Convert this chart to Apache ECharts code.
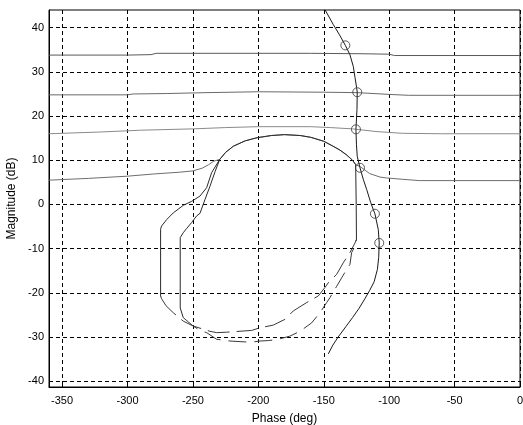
<!DOCTYPE html>
<html>
<head>
<meta charset="utf-8">
<script src="https://cdn.jsdelivr.net/npm/echarts@6/dist/echarts.min.js"></script>
<style>
  html, body { margin: 0; padding: 0; background: #ffffff; }
  #chart { width: 523px; height: 425px; }
</style>
</head>
<body>
<div id="chart"></div>
<script>
// Axis ticks
const phaseTicks = [-350, -300, -250, -200, -150, -100, -50, 0];
const magTicks = [-40, -30, -20, -10, 0, 10, 20, 30, 40];

// Bounds: [phase (deg), magnitude (dB)]
const bound34 = [[-360, 33.8], [-300, 33.8], [-282, 33.9], [-278, 34.2], [-160, 34.2], [-120, 34.1], [-100, 34.0], [-96, 33.7], [0, 33.7]];
const bound25 = [[-360, 24.8], [-300, 24.8], [-296, 25.0], [-270, 25.1], [-240, 25.3], [-200, 25.5], [-150, 25.4], [-124, 25.3], [-100, 24.9], [-85, 24.7], [0, 24.7]];
const bound16 = [[-360, 16.0], [-320, 16.4], [-290, 16.8], [-250, 17.1], [-225, 17.4], [-200, 17.6], [-160, 17.6], [-145, 17.4], [-128, 17.1], [-110, 16.5], [-90, 16.1], [-60, 16.0], [0, 16.0]];
const bound5 = [[-360, 5.5], [-330, 5.9], [-300, 6.4], [-280, 6.9], [-260, 7.3], [-250, 7.6], [-243, 8.2], [-238, 9.0], [-234, 9.8], [-229.5, 10.2],
  [-225, 11.8], [-219, 13.2], [-210, 14.4], [-201, 15.1], [-190, 15.6], [-180, 15.8], [-168, 15.6], [-160, 15.2], [-150, 14.3], [-143, 13.2], [-137.6, 12.3], [-132.5, 11.2], [-128, 10.0], [-125.6, 9.0],
  [-122.3, 8.6], [-115, 7.0], [-107, 6.2], [-102, 6.0], [-90, 5.7], [-77, 5.4], [0, 5.4]];

// Outer contour: arch, left flank and the vertical edge at -125 deg
const outerUpper = [[-125.0, -7.9], [-125.2, 0], [-125.6, 9.0], [-128, 10.0], [-132.5, 11.2], [-137.6, 12.3], [-143, 13.2], [-150, 14.3], [-160, 15.2], [-168, 15.6], [-180, 15.8], [-190, 15.6], [-201, 15.1], [-210, 14.4], [-219, 13.2], [-225, 11.8], [-229.5, 10.2],
  [-235.7, 7.2], [-239.5, 3.8], [-244.6, 1.9], [-251, 0.7], [-257.4, -0.2], [-265, -1.9], [-270, -3.4], [-274, -4.9], [-274.7, -5.6], [-274.7, -20.7], [-274, -21.3]];
const outerLower = [[-274, -21.3], [-270.6, -22.9], [-265, -24.5], [-257.4, -26.4], [-249.8, -27.5], [-237, -28.7], [-231.9, -29.0], [-224.2, -28.9], [-205.1, -28.5], [-198.8, -27.9], [-188.6, -27.3], [-179.7, -26.0], [-173.3, -24.1], [-163.1, -22.2], [-154.2, -20.7], [-149.1, -18.8], [-146.5, -17.7], [-140.1, -15.8], [-135.1, -13.2], [-130, -10.9], [-126.1, -8.7], [-125.0, -7.9]];

// Inner contour
const innerUpper = [[-229.5, 10.2], [-233, 7.5], [-237, 4.1], [-240.8, 1.1], [-244.6, -2.0], [-247.2, -2.6], [-251, -4.1], [-255, -5.5], [-257.4, -6.4], [-259.7, -7.5], [-259.7, -23.4], [-257.4, -25.6]];
const innerLower = [[-257.4, -25.6], [-249.8, -27.5], [-244.6, -28.5], [-239.5, -29.0], [-231.9, -30.5], [-221.7, -30.9], [-210, -31.1], [-203.9, -31.1], [-198.8, -30.9], [-192.4, -30.8], [-184.8, -30.5], [-176, -29.8], [-168.2, -28.7], [-159.3, -26.8], [-152.9, -24.5], [-147.8, -22.2], [-145.3, -21.1], [-140.1, -18.5], [-136.3, -16.6], [-132.5, -14.7], [-130, -13.6], [-128.7, -10.9], [-126.1, -9.4], [-125.0, -7.9]];

// Nominal open loop and its frequency markers
const loopPhase = [-149.1, -142.7, -138, -133.5, -130, -127.4, -126.1, -124.9, -124.4, -124.6, -125.4, -125.0, -124.4, -122.3, -119.8, -117.2, -114.1, -110.9, -108.3, -107.6, -108, -109, -111.5, -115, -118.5, -123, -128, -133, -139, -143, -146.5];
const loopMag = [44.1, 40.7, 38.4, 36.0, 33.9, 31.2, 28.7, 26.5, 25.4, 21.5, 17.0, 13.5, 10.9, 8.3, 5.7, 3.4, 0.4, -2.1, -5.7, -8.7, -12, -14.7, -17.5, -19.5, -21.3, -23.5, -25.6, -27.6, -30, -31.8, -33.8];
const markerPhase = [-133.5, -124.4, -125.4, -122.3, -110.9, -107.6];
const markerMag = [36.0, 25.4, 17.0, 8.3, -2.1, -8.7];

const pairs = (xs, ys) => xs.map((x, i) => [x, ys[i]]);

const FONT = '"Liberation Sans", Arial, sans-serif';
const gridLine = { show: true, lineStyle: { color: '#000', type: [4, 3], width: 1 } };

function line(name, data, color, extra) {
  return Object.assign({
    name, type: 'line', data, showSymbol: false, symbol: 'none', animation: false,
    lineStyle: { color, width: 1 }, z: 3, silent: true
  }, extra || {});
}

const chart = echarts.init(document.getElementById('chart'), null, { renderer: 'canvas' });
chart.setOption({
  backgroundColor: '#ffffff',
  animation: false,
  grid: { left: 49, right: 3, top: 10, bottom: 38, show: true, borderColor: '#000', borderWidth: 1, containLabel: false, outerBoundsMode: 'none' },
  xAxis: {
    type: 'value', min: -360, max: 0,
    name: 'Phase (deg)', nameLocation: 'middle', nameGap: 26,
    nameTextStyle: { color: '#000', fontSize: 12, fontFamily: FONT },
    axisLine: { show: true, onZero: false, lineStyle: { color: '#000' } },
    axisTick: { show: true, inside: true, length: 4, lineStyle: { color: '#000' }, customValues: phaseTicks },
    axisLabel: { color: '#000', fontSize: 11, fontFamily: FONT, margin: 8, customValues: phaseTicks },
    splitLine: gridLine
  },
  yAxis: {
    type: 'value', min: -41.3, max: 44,
    name: 'Magnitude (dB)', nameLocation: 'middle', nameGap: 30,
    nameTextStyle: { color: '#000', fontSize: 12, fontFamily: FONT },
    axisLine: { show: true, onZero: false, lineStyle: { color: '#000' } },
    axisTick: { show: true, inside: true, length: 4, lineStyle: { color: '#000' }, customValues: magTicks },
    axisLabel: { color: '#000', fontSize: 11, fontFamily: FONT, margin: 5, customValues: magTicks },
    splitLine: gridLine
  },
  series: [
    line('bound34', bound34, '#5a5a5a'),
    line('bound25', bound25, '#6a6a6a'),
    line('bound16', bound16, '#8a8a8a'),
    line('bound5', bound5, '#6e6e6e'),
    line('outerUpper', outerUpper, '#2a2a2a', { z: 4 }),
    line('outerLower', outerLower, '#3a3a3a', { lineStyle: { color: '#3a3a3a', width: 1, type: [22, 7] } }),
    line('innerUpper', innerUpper, '#2a2a2a', { z: 4 }),
    line('innerLower', innerLower, '#3a3a3a', { lineStyle: { color: '#3a3a3a', width: 1, type: [18, 8] } }),
    line('loop', pairs(loopPhase, loopMag), '#1a1a1a', { z: 5 }),
    {
      name: 'markers', type: 'scatter', data: pairs(markerPhase, markerMag),
      symbol: 'circle', symbolSize: 9, z: 6, silent: true, animation: false,
      itemStyle: { color: 'rgba(0,0,0,0)', borderColor: '#333', borderWidth: 1 }
    }
  ]
});
</script>
</body>
</html>
